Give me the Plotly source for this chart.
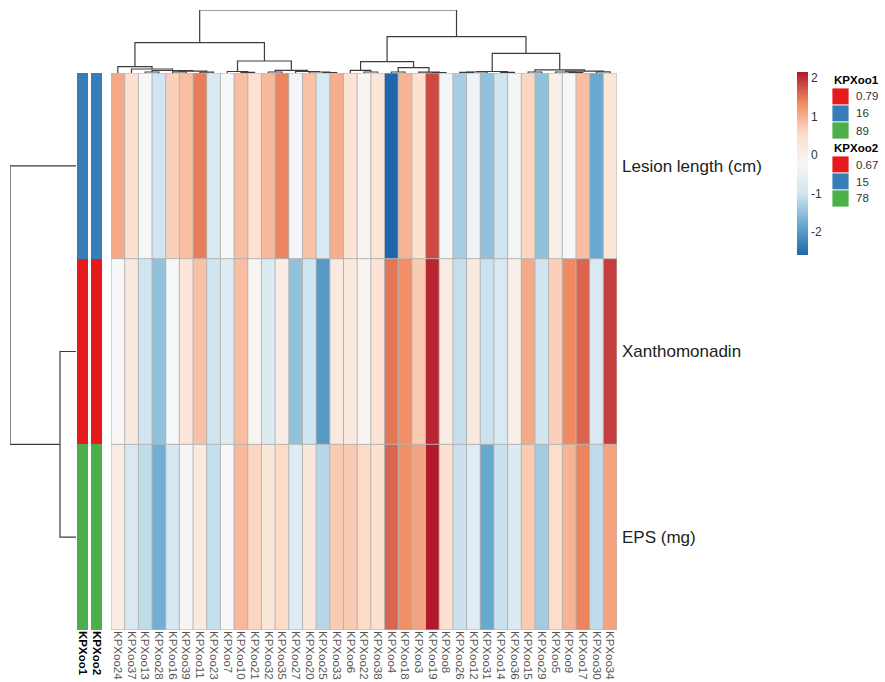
import plotly.graph_objects as go

# ---------------- data ----------------
col_labels = ["KPXoo24", "KPXoo37", "KPXoo13", "KPXoo28", "KPXoo16", "KPXoo39", "KPXoo11",
              "KPXoo23", "KPXoo7", "KPXoo10", "KPXoo21", "KPXoo32", "KPXoo35", "KPXoo27",
              "KPXoo20", "KPXoo25", "KPXoo33", "KPXoo6", "KPXoo22", "KPXoo38", "KPXoo4",
              "KPXoo18", "KPXoo3", "KPXoo19", "KPXoo8", "KPXoo26", "KPXoo12", "KPXoo31",
              "KPXoo14", "KPXoo36", "KPXoo15", "KPXoo29", "KPXoo5", "KPXoo9", "KPXoo17",
              "KPXoo30", "KPXoo34"]
row_labels = ["Lesion length (cm)", "Xanthomonadin", "EPS (mg)"]

lesion = [1.06, 0.41, -0.22, -1.02, 0.67, 0.86, 1.45, -0.86, -0.22, 0.86, 0.41, 0.91, 1.40,
          -0.30, 0.81, -0.86, 1.01, 0.33, -0.15, 0.25, -2.60, 0.96, 0.41, 1.80, -0.30, -1.33,
          -0.38, -1.49, -1.02, -0.30, 0.62, -1.49, 0.01, -0.22, 0.86, -1.81, 0.25]
xanthomonadin = [-0.22, 0.17, -1.02, -1.49, -0.26, 0.25, 0.81, -1.02, -0.70, 0.86, -0.15, -0.78,
                 0.09, -1.49, -1.02, -2.00, 0.17, 0.17, -0.15, 0.33, 1.49, 1.31, 0.72, 2.06,
                 0.09, -1.10, 0.17, -1.06, -0.86, 0.01, 1.06, -1.02, 0.67, 1.36, 1.62, -0.86, 1.89]
eps = [0.09, -0.86, -1.14, -1.73, -0.94, -0.18, 0.17, -1.10, -0.22, 0.91, 0.62, 0.25, 0.57,
       -0.70, 0.22, -1.21, 0.72, 0.72, 0.57, 0.41, 1.62, 1.31, 1.11, 2.15, 0.41, -1.06, -0.70,
       -1.81, -1.06, -0.78, 0.72, -1.37, 0.49, 0.96, 1.40, -1.14, 1.11]

z_min, z_max = -2.6, 2.15
colorbar_ticks = [-2, -1, 0, 1, 2]

# row annotations
anno_names = ["KPXoo1", "KPXoo2"]
kpxoo1_vals = ["16", "0.79", "89"]
kpxoo2_vals = ["15", "0.67", "78"]
kpxoo1_levels = ["0.79", "16", "89"]
kpxoo2_levels = ["0.67", "15", "78"]
anno_palette = ["#E41A1C", "#377EB8", "#4DAF4A"]

# column dendrogram merges: (id, left, right, height); ints = leaf positions
col_merges = [
    ("c1", 2, 3, 1.0), ("c2", 4, 5, 1.2), ("c3", 6, 7, 0.8), ("c4", "c2", "c3", 1.8),
    ("c5", "c1", "c4", 2.5), ("c6", 1, "c5", 4.0), ("c7", 0, "c6", 6.3),
    ("c8", 9, 10, 0.7), ("c9", 8, "c8", 1.5), ("c10", 11, 12, 1.0), ("c11", 15, 16, 0.5),
    ("c12", 14, "c11", 1.0), ("c13", 13, "c12", 1.5), ("c14", "c10", "c13", 2.7),
    ("c15", "c9", "c14", 12.0), ("c16", "c7", "c15", 30.3),
    ("c17", 18, 19, 1.0), ("c18", 17, "c17", 2.7), ("c19", 20, 21, 1.0), ("c20", 23, 24, 0.5),
    ("c21", 22, "c20", 0.8), ("c22", "c19", "c21", 5.3), ("c23", "c18", "c22", 11.3),
    ("c24", 25, 26, 0.6), ("c25", "c24", 27, 1.0), ("c26", 28, 29, 0.7), ("c27", "c25", "c26", 1.5),
    ("c28", 30, 31, 1.0), ("c29", 33, 34, 0.5), ("c30", 32, "c29", 1.0), ("c31", 35, 36, 1.2),
    ("c32", "c30", "c31", 1.8), ("c33", "c28", "c32", 3.2), ("c34", "c27", "c33", 19.7),
    ("c35", "c23", "c34", 36.3), ("c36", "c16", "c35", 63.0),
]
col_dendro_top = 63.0

# row dendrogram merges
row_merges = [("r1", 1, 2, 16.0), ("r2", 0, "r1", 66.0)]
row_dendro_top = 66.0

# ---------------- helpers ----------------
def dendro_segments(merges):
    pos, hgt = {}, {}
    xs, ys = [], []
    for nid, a, b, h in merges:
        pa = a if isinstance(a, int) else pos[a]
        pb = b if isinstance(b, int) else pos[b]
        ha = 0.0 if isinstance(a, int) else hgt[a]
        hb = 0.0 if isinstance(b, int) else hgt[b]
        xs += [pa, pa, pb, pb, None]
        ys += [ha, h, h, hb, None]
        pos[nid] = (pa + pb) / 2.0
        hgt[nid] = h
    return xs, ys

W, H = 885, 682
def px_x(a, b):
    return [a / W, b / W]
def px_y(top, bottom):
    return [1 - bottom / H, 1 - top / H]

hm_left, hm_right, hm_top, hm_bottom = 111, 617, 73, 630
ncol, nrow = len(col_labels), len(row_labels)

rdbu = [[0.0, "#2166AC"], [1 / 6, "#67A9CF"], [2 / 6, "#D1E5F0"], [3 / 6, "#F7F7F7"],
        [4 / 6, "#FDDBC7"], [5 / 6, "#EF8A62"], [1.0, "#B2182B"]]

FONT = "Liberation Sans, Arial, Helvetica, sans-serif"
fig = go.Figure()

# main heatmap
fig.add_trace(go.Heatmap(
    z=[lesion, xanthomonadin, eps], x=list(range(ncol)), y=list(range(nrow)),
    colorscale=rdbu, zmin=z_min, zmax=z_max, xaxis="x", yaxis="y",
    colorbar=dict(x=797 / W, xanchor="left", y=1 - 72 / H, yanchor="top",
                  len=183 / H, lenmode="fraction", thickness=11, xpad=0, ypad=0,
                  outlinewidth=0, tickvals=colorbar_ticks,
                  ticktext=[str(t) for t in colorbar_ticks],
                  tickfont=dict(size=12, color="#333333", family=FONT), ticks=""),
))

# cell borders
gx, gy = [], []
for k in range(ncol + 1):
    gx += [k - 0.5, k - 0.5, None]
    gy += [-0.5, nrow - 0.5, None]
for r in range(nrow + 1):
    gx += [-0.5, ncol - 0.5, None]
    gy += [r - 0.5, r - 0.5, None]
fig.add_trace(go.Scatter(x=gx, y=gy, mode="lines", line=dict(color="#B4B4B4", width=1),
                         xaxis="x", yaxis="y", hoverinfo="skip", showlegend=False))

# annotation columns
anno_z = [[kpxoo1_levels.index(kpxoo1_vals[r]), kpxoo2_levels.index(kpxoo2_vals[r])]
          for r in range(nrow)]
fig.add_trace(go.Heatmap(
    z=anno_z, x=[0, 1], y=list(range(nrow)), zmin=0, zmax=2,
    colorscale=[[0, anno_palette[0]], [0.5, anno_palette[1]], [1, anno_palette[2]]],
    showscale=False, xgap=3, xaxis="x2", yaxis="y", hoverinfo="skip"))

# column dendrogram
cx, cy = dendro_segments(col_merges)
fig.add_trace(go.Scatter(x=cx, y=cy, mode="lines", line=dict(color="#3C3C3C", width=1.2),
                         xaxis="x3", yaxis="y3", hoverinfo="skip", showlegend=False))
# row dendrogram
ry, rx = dendro_segments(row_merges)
fig.add_trace(go.Scatter(x=rx, y=ry, mode="lines", line=dict(color="#3C3C3C", width=1.2),
                         xaxis="x4", yaxis="y4", hoverinfo="skip", showlegend=False))

noax = dict(showgrid=False, zeroline=False, showline=False, ticks="", showticklabels=False)

fig.update_layout(
    width=W, height=H, margin=dict(l=0, r=0, t=0, b=0),
    paper_bgcolor="white", plot_bgcolor="white", showlegend=False,
    font=dict(family=FONT),
    xaxis=dict(domain=px_x(hm_left, hm_right), range=[-0.5, ncol - 0.5],
               tickvals=list(range(ncol)), ticktext=col_labels, tickangle=90,
               tickfont=dict(size=11.5, color="#555555", family=FONT),
               showgrid=False, zeroline=False, showline=False, ticks="", anchor="y"),
    yaxis=dict(domain=px_y(hm_top, hm_bottom), range=[nrow - 0.5, -0.5],
               tickvals=list(range(nrow)), ticktext=row_labels, side="right",
               tickfont=dict(size=17, color="#222222", family=FONT), ticklabelstandoff=4,
               showgrid=False, zeroline=False, showline=False, ticks="", anchor="x"),
    xaxis2=dict(domain=px_x(76, 104), range=[-0.5, 1.5], tickvals=[0, 1],
                ticktext=["<b>" + n + "</b>" for n in anno_names], tickangle=90,
                tickfont=dict(size=11.5, color="#000000", family=FONT),
                showgrid=False, zeroline=False, showline=False, ticks="", anchor="y"),
    xaxis3=dict(domain=px_x(hm_left, hm_right), range=[-0.5, ncol - 0.5], anchor="y3", **noax),
    yaxis3=dict(domain=px_y(10, hm_top), range=[0, col_dendro_top], anchor="x3", **noax),
    xaxis4=dict(domain=px_x(10, 76), range=[row_dendro_top, 0], anchor="y4", **noax),
    yaxis4=dict(domain=px_y(hm_top, hm_bottom), range=[nrow - 0.5, -0.5], anchor="x4", **noax),
)

# annotation legend (to the right of the colour bar)
legend_groups = [("KPXoo1", kpxoo1_levels, 80), ("KPXoo2", kpxoo2_levels, 148)]
box_x0, box_x1, box_h = 832, 849, 17
for title, levels, ty in legend_groups:
    fig.add_annotation(x=box_x0 / W, y=1 - ty / H, xref="paper", yref="paper",
                       text="<b>" + title + "</b>", showarrow=False, xanchor="left",
                       yanchor="middle", font=dict(size=11.5, color="#000000", family=FONT))
    for i, lev in enumerate(levels):
        top = ty + 8 + i * box_h
        fig.add_shape(type="rect", xref="paper", yref="paper",
                      x0=box_x0 / W, x1=box_x1 / W, y0=1 - (top + box_h) / H, y1=1 - top / H,
                      fillcolor=anno_palette[i], line=dict(width=0.8, color="white"))
        fig.add_annotation(x=(box_x1 + 5) / W, y=1 - (top + box_h / 2) / H, xref="paper",
                           yref="paper", text=lev, showarrow=False, xanchor="left",
                           yanchor="middle", font=dict(size=11.5, color="#333333", family=FONT))

fig.write_html("out.html", config={"displayModeBar": False},
               post_script="document.body.style.margin='0px';")
